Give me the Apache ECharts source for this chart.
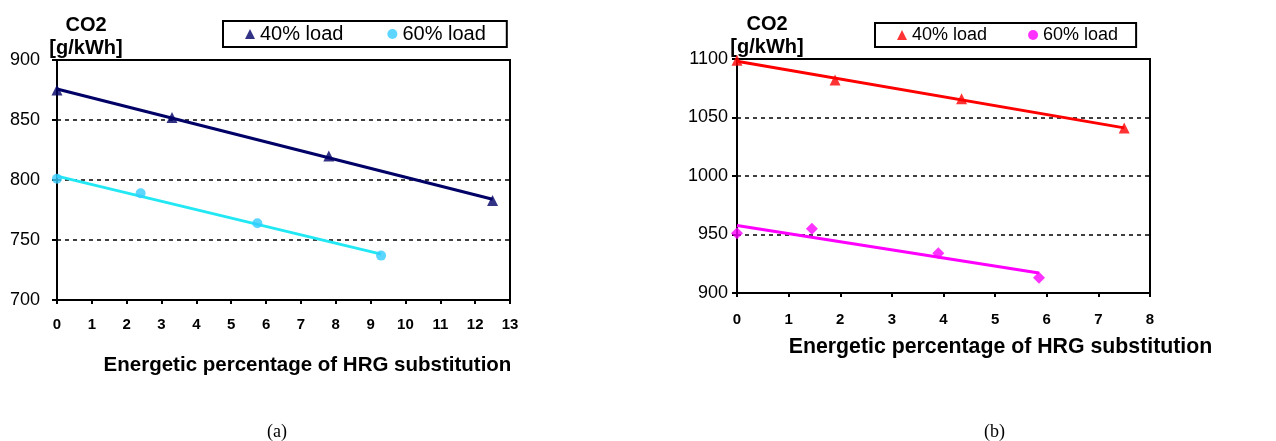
<!DOCTYPE html>
<html>
<head>
<meta charset="utf-8">
<script src="https://cdn.jsdelivr.net/npm/echarts@6/dist/echarts.min.js"></script>
<style>
html,body{margin:0;padding:0;background:#fff;}
#chart{width:1276px;height:441px;}
</style>
</head>
<body>
<div id="chart"></div>
<script>
// ---- data ----
const a40x = [0, 3.3, 7.8, 12.5];
const a40y = [875, 852, 820, 783];
const a60x = [0, 2.4, 5.75, 9.3];
const a60y = [801, 789, 764, 737];
const b40x = [0, 1.9, 4.35, 7.5];
const b40y = [1099, 1082, 1066, 1041];
const b60x = [0, 1.45, 3.9, 5.85];
const b60y = [951, 955, 934, 913];
const seriesLabels = {a40: '40% load', a60: '60% load', b40: '40% load', b60: '60% load'};
const yTitle = 'CO2\n[g/kWh]';
const xTitle = 'Energetic percentage of HRG substitution';
const captions = ['(a)', '(b)'];

function pts(xs, ys) { return xs.map((x, i) => [x, ys[i]]); }
function trend(xs, ys) {
  const n = xs.length;
  const mx = xs.reduce((s, v) => s + v, 0) / n;
  const my = ys.reduce((s, v) => s + v, 0) / n;
  let sxy = 0, sxx = 0;
  for (let i = 0; i < n; i++) { sxy += (xs[i] - mx) * (ys[i] - my); sxx += (xs[i] - mx) ** 2; }
  const k = sxy / sxx, b = my - k * mx;
  const x0 = Math.min(...xs), x1 = Math.max(...xs);
  return [[x0, k * x0 + b], [x1, k * x1 + b]];
}

const FONT = '"Liberation Sans", Arial, sans-serif';
const chart = echarts.init(document.getElementById('chart'), null, {renderer: 'canvas'});

function yAxisCfg(gi, min, max, margin) {
  return {
    type: 'value', gridIndex: gi, min: min, max: max, interval: 50,
    axisLine: {show: true, lineStyle: {color: '#000', width: 2}},
    axisTick: {show: true, inside: false, length: 5, lineStyle: {color: '#000', width: 2}},
    axisLabel: {color: '#000', fontFamily: FONT, fontSize: 18, margin: margin, formatter: v => String(v)},
    splitLine: {show: true, lineStyle: {color: '#000', type: [4, 4], width: 1.5}}
  };
}
function xAxisCfg(gi, max, gap, pad, fs, margin) {
  return {
    type: 'value', gridIndex: gi, min: 0, max: max, interval: 1,
    name: xTitle, nameLocation: 'middle', nameGap: gap,
    nameTextStyle: {color: '#000', fontFamily: FONT, fontWeight: 'bold', fontSize: fs, padding: pad},
    axisLine: {show: true, onZero: false, lineStyle: {color: '#000', width: 2}},
    axisTick: {show: true, inside: false, length: 4, lineStyle: {color: '#000', width: 2}},
    axisLabel: {color: '#000', fontFamily: FONT, fontSize: 15, fontWeight: 'bold', margin: margin, formatter: v => String(v)},
    splitLine: {show: false}
  };
}
function legendCfg(left, top, names, icons, fs, gap, pad) {
  return {
    left: left, top: top,
    data: names.map((n, i) => ({name: n, icon: icons[i]})),
    formatter: n => seriesLabels[n],
    borderColor: '#000', borderWidth: 2, borderRadius: 0,
    padding: pad, itemGap: gap, itemWidth: 10, itemHeight: 10,
    textStyle: {color: '#000', fontFamily: FONT, fontSize: fs},
    selectedMode: false
  };
}
function yName(x, y) {
  return {
    type: 'text', x: x, y: y, silent: true,
    style: {text: yTitle, fill: '#000', font: 'bold 20px ' + FONT, lineHeight: 23, align: 'center', verticalAlign: 'top'}
  };
}

const option = {
  animation: false,
  backgroundColor: '#fff',
  grid: [
    {left: 57, top: 60, width: 453, height: 240, show: true, borderColor: '#000', borderWidth: 2, backgroundColor: 'transparent', outerBoundsMode: 'none', containLabel: false},
    {left: 737, top: 59, width: 413, height: 234, show: true, borderColor: '#000', borderWidth: 2, backgroundColor: 'transparent', outerBoundsMode: 'none', containLabel: false}
  ],
  xAxis: [xAxisCfg(0, 13, 55, [0, 0, 0, 48], 20.5, 17), xAxisCfg(1, 8, 44, [0, 0, 0, 114], 21.3, 19)],
  yAxis: [yAxisCfg(0, 700, 900, 17), yAxisCfg(1, 900, 1100, 9)],
  legend: [
    legendCfg(223, 21, ['a40', 'a60'], ['triangle', 'circle'], 20, 44, [3, 21, 3, 22]),
    legendCfg(875, 23, ['b40', 'b60'], ['triangle', 'circle'], 18, 41, [3, 18, 3, 22])
  ],
  graphic: [yName(86, 14), yName(767, 13)],
  title: [
    {text: captions[0], left: 262, top: 418, textStyle: {fontFamily: '"Liberation Serif", "Times New Roman", serif', fontWeight: 'normal', fontSize: 18, color: '#000'}},
    {text: captions[1], left: 979, top: 418, textStyle: {fontFamily: '"Liberation Serif", "Times New Roman", serif', fontWeight: 'normal', fontSize: 18, color: '#000'}}
  ],
  series: [
    {name: 'a40t', type: 'line', xAxisIndex: 0, yAxisIndex: 0, data: trend(a40x, a40y), showSymbol: false, lineStyle: {color: '#000066', width: 3}, z: 2},
    {name: 'a60t', type: 'line', xAxisIndex: 0, yAxisIndex: 0, data: trend(a60x, a60y), showSymbol: false, lineStyle: {color: '#22e8f4', width: 3}, z: 2},
    {name: 'a40', type: 'scatter', xAxisIndex: 0, yAxisIndex: 0, data: pts(a40x, a40y), symbol: 'triangle', symbolSize: 11, itemStyle: {color: '#000066'}, z: 3},
    {name: 'a60', type: 'scatter', xAxisIndex: 0, yAxisIndex: 0, data: pts(a60x, a60y), symbol: 'circle', symbolSize: 10, itemStyle: {color: '#33ccff'}, z: 3},
    {name: 'b40t', type: 'line', xAxisIndex: 1, yAxisIndex: 1, data: trend(b40x, b40y), showSymbol: false, lineStyle: {color: '#ff0000', width: 3}, z: 2},
    {name: 'b60t', type: 'line', xAxisIndex: 1, yAxisIndex: 1, data: trend(b60x, b60y), showSymbol: false, lineStyle: {color: '#ff00ff', width: 3}, z: 2},
    {name: 'b40', type: 'scatter', xAxisIndex: 1, yAxisIndex: 1, data: pts(b40x, b40y), symbol: 'triangle', symbolSize: 11, itemStyle: {color: '#ff0000'}, z: 3},
    {name: 'b60', type: 'scatter', xAxisIndex: 1, yAxisIndex: 1, data: pts(b60x, b60y), symbol: 'diamond', symbolSize: 12, itemStyle: {color: '#ff00ff'}, z: 3}
  ]
};
chart.setOption(option);
</script>
</body>
</html>
